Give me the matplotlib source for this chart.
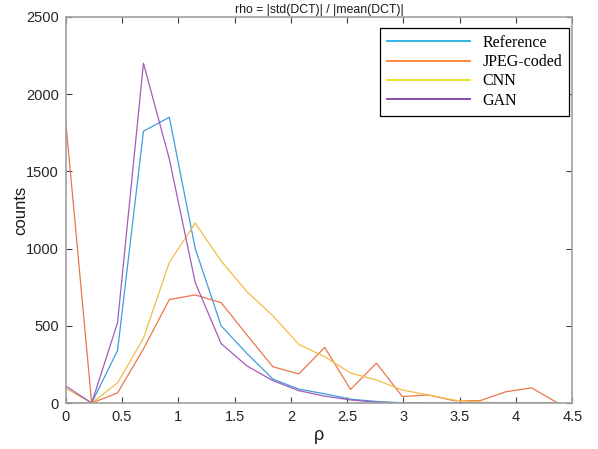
import numpy as np
import matplotlib
matplotlib.use("Agg")
import matplotlib.pyplot as plt
from matplotlib.lines import Line2D

# ค่า rho (แกน x) ของแต่ละ bin
rho = [0, 0.23, 0.46, 0.69, 0.92, 1.15, 1.38, 1.61, 1.84, 2.07,
       2.30, 2.53, 2.76, 2.99, 3.22, 3.45, 3.68, 3.91, 4.14, 4.37]

reference = [0, 0, 340, 1760, 1850, 1000, 500, 320, 155, 90,
             60, 25, 10, 2, 0, 0, 0, 0, 0, 0]
jpeg = [1820, 0, 65, 350, 670, 700, 650, 440, 235, 188,
        360, 88, 258, 42, 52, 15, 15, 73, 98, 0]
cnn = [95, 0, 130, 420, 910, 1165, 920, 720, 565, 380,
       300, 194, 149, 84, 52, 19, 5, 2, 2, 0]
gan = [110, 0, 520, 2200, 1580, 780, 385, 240, 145, 80,
       45, 20, 5, 0, 0, 0, 0, 0, 0, 0]

labels = ["Reference", "JPEG-coded", "CNN", "GAN"]
line_colors = ["#3F9DDA", "#E9774A", "#F3BC48", "#A35CB8"]
legend_colors = ["#22AEE0", "#FF7F2E", "#E8E020", "#7E3FA8"]

plt.rcParams['font.family'] = ['Liberation Sans', 'DejaVu Sans']

fig = plt.figure(figsize=(5.98, 4.49), dpi=100)
ax = fig.add_axes([0.110, 0.1024, 0.847, 0.860])

for ys, c in zip([reference, jpeg, cnn, gan], line_colors):
    ax.plot(rho, ys, color=c, lw=0.9)

ax.set_xlim(0, 4.5)
ax.set_ylim(0, 2500)
ax.set_xticks(np.arange(0, 4.51, 0.5))
ax.set_xticklabels(["0", "0.5", "1", "1.5", "2", "2.5", "3", "3.5", "4", "4.5"])
ax.set_yticks(np.arange(0, 2501, 500))

for s in ax.spines.values():
    s.set_color("#a0a0a0")
    s.set_linewidth(1.2)
ax.tick_params(direction="in", top=True, right=True, length=4, width=0.8,
               color="#404040", labelsize=10.5, labelcolor="#262626", pad=5)

ax.set_title("rho = |std(DCT)| / |mean(DCT)|", fontsize=8.8, color="#1a1a1a", pad=3)
ax.set_xlabel("ρ", fontsize=13, color="#1a1a1a", labelpad=2)
ax.set_ylabel("counts", fontsize=12, color="#1a1a1a", labelpad=-2)

handles = [Line2D([], [], color=c, lw=1.3) for c in legend_colors]
leg = ax.legend(handles, labels, loc="upper right", bbox_to_anchor=(0.994, 0.9715),
                fancybox=False, edgecolor="black", framealpha=1,
                prop={"family": "Liberation Serif", "size": 11.5},
                handlelength=5.2, handletextpad=0.75, labelspacing=0.2,
                borderpad=0.45, borderaxespad=0)
leg.get_frame().set_linewidth(0.9)

fig.savefig("out.png", dpi=100)
